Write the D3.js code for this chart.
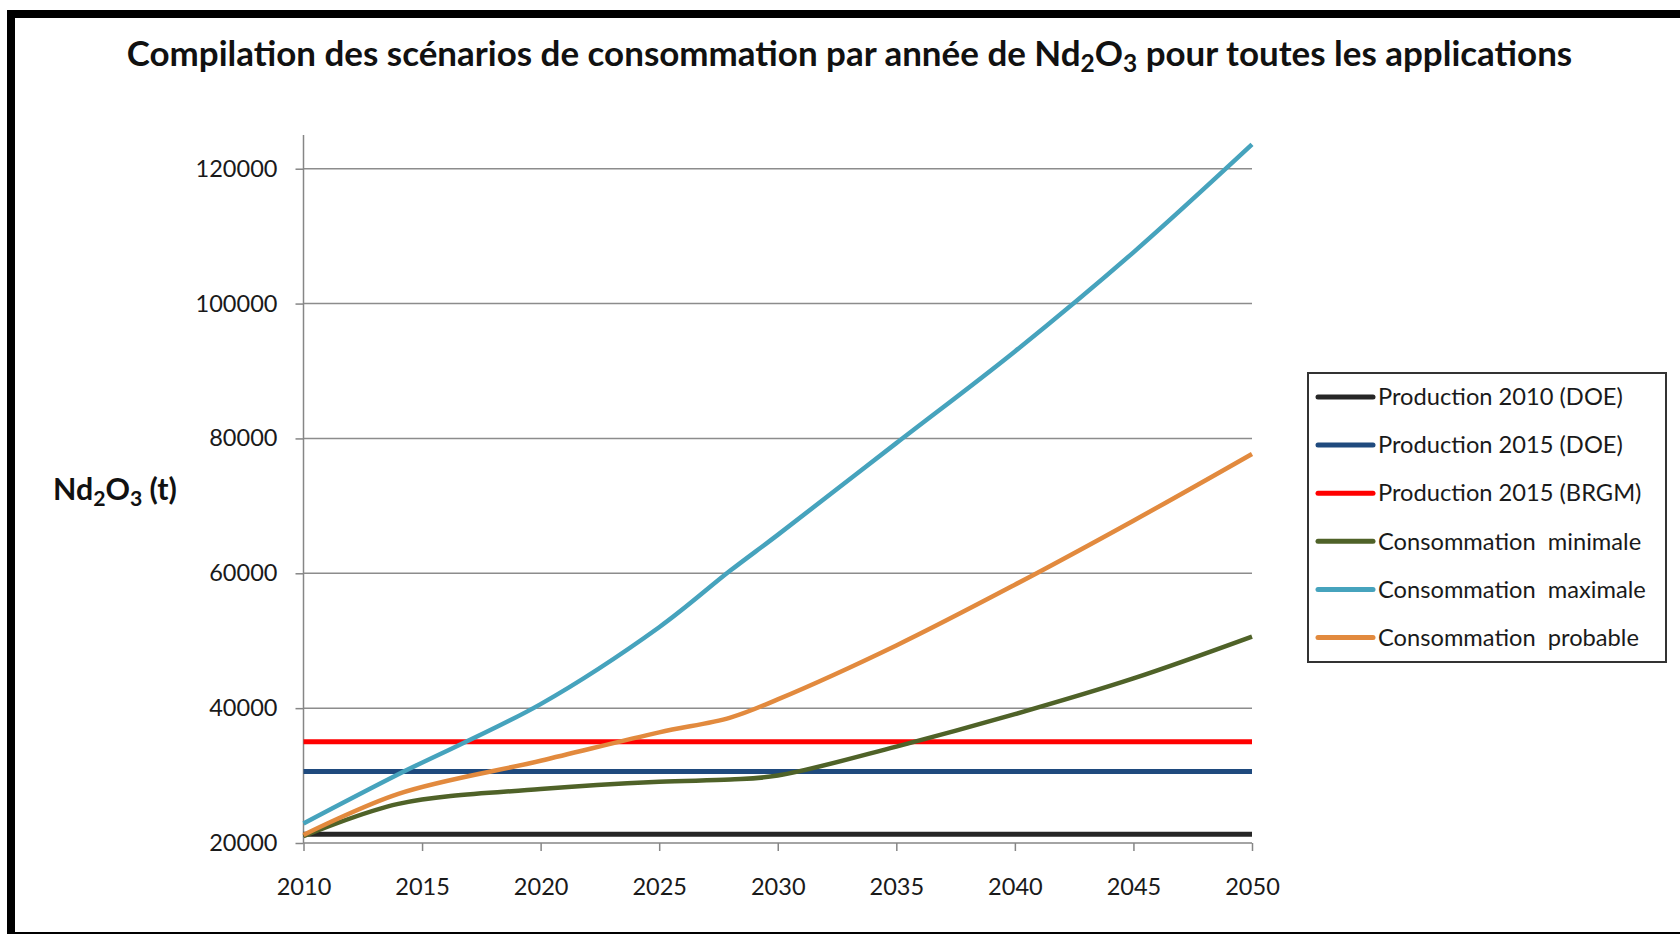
<!DOCTYPE html>
<html lang="fr">
<head>
    <meta charset="UTF-8">
    <title>Compilation des scénarios de consommation de Nd2O3</title>
    <script src="https://d3js.org/d3.v7.min.js"></script>
    <style>
        body { margin: 0; background: #fff; }
        svg { display: block; font-family: Lato, "Open Sans", sans-serif; }
    </style>
</head>
<body>
    <div id="chart"></div>
    <script>
        // data
        const years = [2010, 2014, 2020, 2025, 2028, 2030, 2035, 2040, 2045, 2050];
        const consoMin = [21000, 25800, 28000, 29100, 29400, 30000, 34300, 39100, 44400, 50600];
        const consoMax = [22900, 30200, 40600, 52000, 60400, 65700, 79300, 92900, 107600, 123600];
        const consoProb = [21200, 27300, 32200, 36400, 38600, 41300, 49300, 58300, 67800, 77700];
        const prodYears = [2010, 2050];
        const prod2010DOE = 21300;
        const prod2015DOE = 30600;
        const prod2015BRGM = 35000;

        const seriesNames = ["Production 2010 (DOE)", "Production 2015 (DOE)", "Production 2015 (BRGM)",
            "Consommation  minimale", "Consommation  maximale", "Consommation  probable"];
        const seriesColors = ["#262626", "#1f4a7e", "#ff0000", "#4f6228", "#46a3bd", "#e28a3e"];
        const yTicks = [20000, 40000, 60000, 80000, 100000, 120000];
        const xTicks = [2010, 2015, 2020, 2025, 2030, 2035, 2040, 2045, 2050];

        const width = 1680;
        const height = 934;

        const svg = d3.select("#chart").append("svg")
            .attr("width", width)
            .attr("height", height);

        // black frame, runs off the right and bottom edges
        svg.append("rect")
            .attr("x", 11).attr("y", 14)
            .attr("width", 1700).attr("height", 922)
            .attr("fill", "#fff")
            .attr("stroke", "#000")
            .attr("stroke-width", 8);

        const x = d3.scaleLinear().domain([2010, 2050]).range([303.5, 1252]);
        const y = d3.scaleLinear().domain([20000, 125000]).range([843, 135]);

        // fit a text to a given width by changing its font size
        function fitWidth(sel, target) {
            const node = sel.node();
            const fs = parseFloat(sel.attr("font-size"));
            const w = node.getComputedTextLength();
            const nfs = fs * target / w;
            sel.attr("font-size", nfs);
            return nfs;
        }

        // title
        const title = svg.append("text")
            .attr("x", 849.5).attr("y", 66)
            .attr("text-anchor", "middle")
            .attr("font-size", 30)
            .attr("font-weight", "bold")
            .attr("fill", "#111");
        title.append("tspan").text("Compilation des scénarios de consommation par année de Nd");
        title.append("tspan").attr("dy", 6).attr("font-size", "0.7em").text("2");
        title.append("tspan").attr("dy", -6).text("O");
        title.append("tspan").attr("dy", 6).attr("font-size", "0.7em").text("3");
        title.append("tspan").attr("dy", -6).text(" pour toutes les applications");
        fitWidth(title, 1446);

        // y axis title
        const yTitle = svg.append("text")
            .attr("x", 53).attr("y", 500)
            .attr("font-size", 26)
            .attr("font-weight", "bold")
            .attr("fill", "#111");
        yTitle.append("tspan").text("Nd");
        yTitle.append("tspan").attr("dy", 6).attr("font-size", "0.7em").text("2");
        yTitle.append("tspan").attr("dy", -6).text("O");
        yTitle.append("tspan").attr("dy", 6).attr("font-size", "0.7em").text("3");
        yTitle.append("tspan").attr("dy", -6).text(" (t)");
        fitWidth(yTitle, 124);

        // gridlines
        svg.append("g")
            .selectAll("line")
            .data(yTicks.slice(1))
            .join("line")
            .attr("x1", x(2010)).attr("x2", x(2050))
            .attr("y1", d => y(d)).attr("y2", d => y(d))
            .attr("stroke", "#8c8c8c")
            .attr("stroke-width", 1.5);

        // axes
        const yAxis = svg.append("g")
            .attr("transform", `translate(${x(2010)},0)`)
            .call(d3.axisLeft(y).tickValues(yTicks).tickSize(8).tickPadding(10).tickFormat(d3.format("d")));
        const xAxis = svg.append("g")
            .attr("transform", `translate(0,${y(20000)})`)
            .call(d3.axisBottom(x).tickValues(xTicks).tickSize(8).tickPadding(27).tickFormat(d3.format("d")));

        [yAxis, xAxis].forEach(a => {
            a.attr("font-family", null);
            a.select(".domain").attr("stroke", "#868686").attr("stroke-width", 1.5);
            a.selectAll(".tick line").attr("stroke", "#868686").attr("stroke-width", 1.5);
            a.selectAll(".tick text").attr("fill", "#1a1a1a");
        });
        yAxis.select(".domain").attr("d", `M0,${y(125000)}V${y(20000)}`);
        xAxis.select(".domain").attr("d", `M0,0H${x(2050) - x(2010)}`).attr("transform", `translate(${x(2010)},0)`);

        // tick label size: "120000" is about 82px wide
        const probe = svg.append("text").attr("font-size", 24).text("120000");
        const tickFs = fitWidth(probe, 82);
        probe.remove();
        yAxis.attr("font-size", tickFs);
        xAxis.attr("font-size", tickFs);
        yAxis.selectAll(".tick text").attr("x", -26);

        // lines
        const series = [
            prodYears.map(yr => ({ x: yr, y: prod2010DOE })),
            prodYears.map(yr => ({ x: yr, y: prod2015DOE })),
            prodYears.map(yr => ({ x: yr, y: prod2015BRGM })),
            years.map((yr, i) => ({ x: yr, y: consoMin[i] })),
            years.map((yr, i) => ({ x: yr, y: consoMax[i] })),
            years.map((yr, i) => ({ x: yr, y: consoProb[i] }))
        ];

        const line = d3.line()
            .x(d => x(d.x))
            .y(d => y(d.y))
            .curve(d3.curveCatmullRom.alpha(0.5));

        svg.append("g")
            .selectAll("path")
            .data(series)
            .join("path")
            .attr("d", line)
            .attr("fill", "none")
            .attr("stroke", (d, i) => seriesColors[i])
            .attr("stroke-width", (d, i) => i < 3 ? 5 : 4.5)
            .attr("stroke-linejoin", "round");

        // legend
        const legend = svg.append("g");
        legend.append("rect")
            .attr("x", 1308).attr("y", 373)
            .attr("width", 358).attr("height", 289)
            .attr("fill", "#fff")
            .attr("stroke", "#333")
            .attr("stroke-width", 2);

        const items = legend.selectAll("g.item")
            .data(seriesNames)
            .join("g")
            .attr("class", "item")
            .attr("transform", (d, i) => `translate(1318,${397 + i * 48.1})`);

        items.append("line")
            .attr("x1", 0).attr("x2", 55)
            .attr("stroke", (d, i) => seriesColors[i])
            .attr("stroke-width", 5)
            .attr("stroke-linecap", "round");

        const labels = items.append("text")
            .attr("x", 60).attr("dy", "0.35em")
            .attr("font-size", 24)
            .attr("fill", "#1a1a1a")
            .style("white-space", "pre")
            .text(d => d);
        const legFs = fitWidth(d3.select(labels.nodes()[0]), 245);
        labels.attr("font-size", legFs);
    </script>
</body>
</html>
